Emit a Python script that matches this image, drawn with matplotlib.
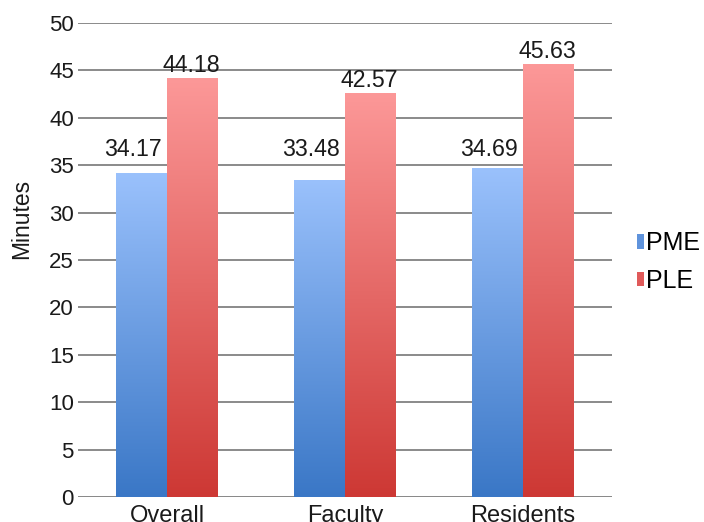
import matplotlib
matplotlib.use("Agg")
import matplotlib.pyplot as plt
import numpy as np
from matplotlib.colors import LinearSegmentedColormap
from matplotlib.patches import Patch

plt.rcParams['font.family'] = ['Liberation Sans', 'DejaVu Sans']

categories = ["Overall", "Faculty", "Residents"]
pme = [34.17, 33.48, 34.69]
ple = [44.18, 42.57, 45.63]
series_names = ["PME", "PLE"]
yticks = [0, 5, 10, 15, 20, 25, 30, 35, 40, 45, 50]

fig = plt.figure(figsize=(7.04, 5.22), dpi=100)
ax = fig.add_axes([78/704, 1-497/522, (612-78)/704, (497-23)/522])

x = np.arange(len(categories))
w = 0.285
cmap_b = LinearSegmentedColormap.from_list("b", ["#3a77c6", "#9ac1fc"])
cmap_r = LinearSegmentedColormap.from_list("r", ["#cd3834", "#fc9898"])
grad = np.linspace(0, 1, 256).reshape(-1, 1)

handles = []
for vals, off, cmap, col, name in [(pme, -w/2, cmap_b, "#5f93dc", "PME"),
                                   (ple, w/2, cmap_r, "#e05a5a", "PLE")]:
    bars = ax.bar(x + off, vals, w, color="none", edgecolor="none", zorder=3)
    for b, v in zip(bars, vals):
        x0 = b.get_x()
        im = ax.imshow(grad, cmap=cmap, origin="lower", aspect="auto",
                       extent=[x0, x0 + w, 0, v], zorder=3, vmin=0, vmax=1)
        im.set_clip_path(b)
        if name == "PME":
            # PME labels sit on a common baseline, nudged left
            ty = max(pme) + 1.3
            tx = x0 + w/2 - 0.05
        else:
            ty = v + 0.7
            tx = x0 + w/2 - 0.008
        ax.text(tx, ty, f"{v:.2f}", ha="center", va="baseline",
                fontsize=16.7, color="#1a1a1a", zorder=4)
    handles.append(Patch(facecolor=col, edgecolor="none", label=name))

ax.set_xlim(-0.5, 2.5)
ax.set_ylim(0, 50)
ax.set_yticks(yticks)
ax.set_xticks(x)
ax.set_xticklabels(categories, fontsize=17)
ax.tick_params(axis="y", labelsize=16, length=0, pad=3, labelcolor="#1a1a1a")
ax.tick_params(axis="x", length=0, pad=5.5, labelcolor="#1a1a1a")
ax.yaxis.grid(True, color="#8a8a8a", linewidth=1.4, zorder=0)
ax.set_axisbelow(True)
for s in ax.spines.values():
    s.set_visible(False)
ax.axhline(0, color="#8a8a8a", linewidth=1.4, zorder=2)
ax.set_ylabel("Minutes", fontsize=16.5, color="#1a1a1a")
ax.yaxis.set_label_coords(-0.084, 0.586)

leg = ax.legend(handles=handles, loc="center left", bbox_to_anchor=(1.047, 0.495),
                frameon=False, fontsize=18, handletextpad=0.08, labelspacing=0.55,
                handlelength=0.28, handleheight=0.5, borderaxespad=0, borderpad=0)

fig.savefig("out.png", dpi=100)
